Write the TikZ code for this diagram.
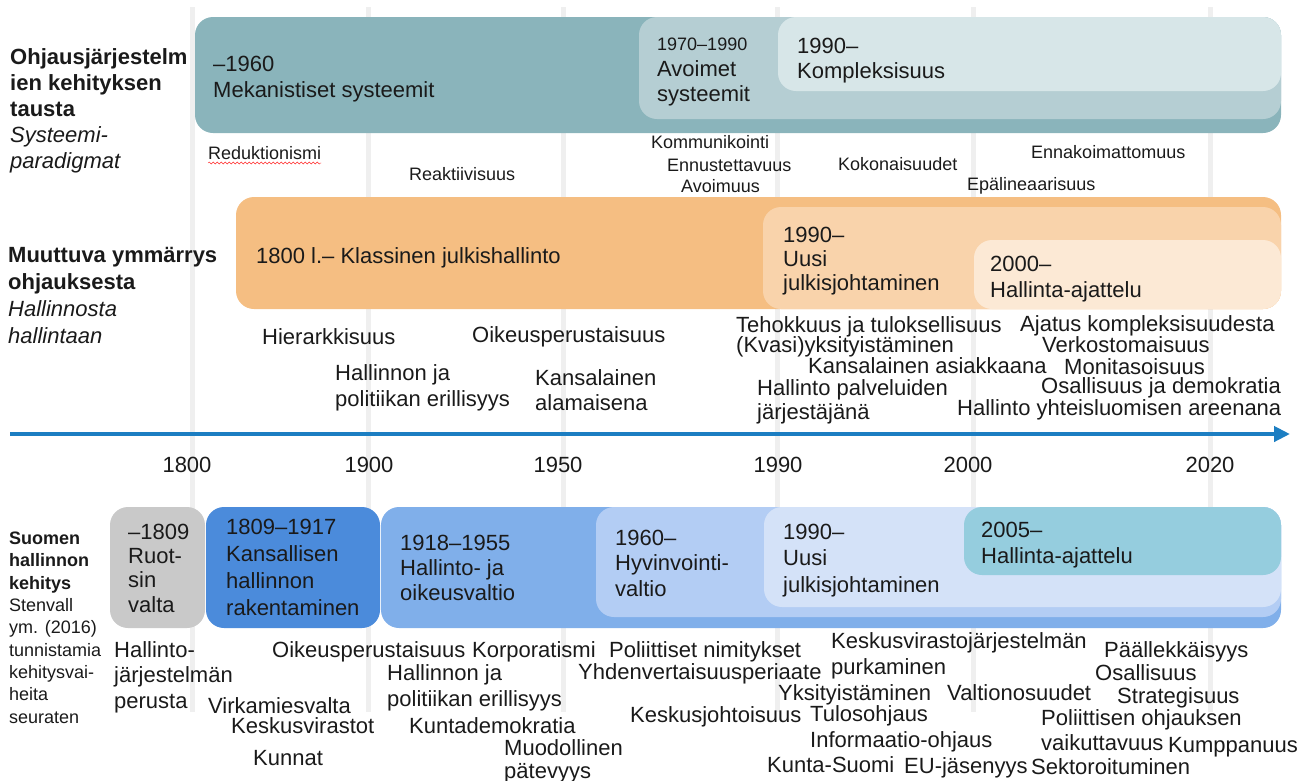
\documentclass[tikz,border=0pt]{standalone}
\usepackage{fontspec}
\setmainfont{Liberation Sans}
\usetikzlibrary{arrows.meta,decorations.pathmorphing}
\definecolor{gridc}{HTML}{EFEFEF}
\definecolor{axisc}{HTML}{1C7EC2}
\definecolor{tealA}{HTML}{8AB4BB}
\definecolor{tealB}{HTML}{B5CED3}
\definecolor{tealC}{HTML}{D7E6E8}
\definecolor{orgA}{HTML}{F5BE82}
\definecolor{orgB}{HTML}{F9D3AB}
\definecolor{orgC}{HTML}{FCE9D5}
\definecolor{gryA}{HTML}{C9C9C9}
\definecolor{bluA}{HTML}{4B8BDB}
\definecolor{bluB}{HTML}{80AFEA}
\definecolor{bluC}{HTML}{B3CDF4}
\definecolor{bluD}{HTML}{D4E2F8}
\definecolor{cynA}{HTML}{95CDDE}
\definecolor{ink}{HTML}{1A1A1A}
\begin{document}
\begin{tikzpicture}[x=1pt,y=-1pt,font=\fontsize{22}{26}\selectfont,text=ink,
 txt/.style={anchor=base west,inner sep=0pt,align=left},
 sm/.style={txt,font=\fontsize{18}{22}\selectfont},
 yr/.style={anchor=base,inner sep=0pt},
 band/.style={rounded corners=18pt}]
\useasboundingbox (0,0) rectangle (1311,780);
\foreach \x in {192,368,563,777,973,1210} \draw[gridc,line width=5pt] (\x,7)--(\x,712);
\fill[tealA,band] (195,17) rectangle (1281,133);\fill[tealB,band] (639,17) rectangle (1281,119);\fill[tealC,band] (778,17) rectangle (1281,91);
\node[txt] (mek) at (213,97) {–1960\\Mekanistiset systeemit};
\node[sm] (avo0) at (657,50) {1970–1990};\node[txt,font=\fontsize{22}{25}\selectfont] (avo) at (657,101) {Avoimet\\systeemit};
\node[txt,font=\fontsize{22}{25}\selectfont] (kom) at (797,78) {1990–\\Kompleksisuus};
\node[txt] (ohj) at (10,168) {\textbf{Ohjausjärjestelm}\\\textbf{ien kehityksen}\\\textbf{tausta}\\\textit{Systeemi-}\\\textit{paradigmat}};
\node[sm] (redu) at (208,159) {Reduktionismi};\draw[red!85!white,decorate,decoration={snake,amplitude=1pt,segment length=4pt}] ([yshift=-4pt]redu.base west)--([yshift=-4pt]redu.base east);
\node[sm] (reak) at (409,180) {Reaktiivisuus};
\node[sm] (komm) at (651,148) {Kommunikointi};\node[sm] (ennu) at (667,171) {Ennustettavuus};\node[sm] (avoi) at (681,192) {Avoimuus};
\node[sm] (koko) at (838,170) {Kokonaisuudet};\node[sm] (enna) at (1031,158) {Ennakoimattomuus};\node[sm] (epal) at (967,190) {Epälineaarisuus};
\fill[orgA,band] (236,197) rectangle (1281,309);\fill[orgB,band] (763,207) rectangle (1281,309);\fill[orgC,band] (974,240) rectangle (1281,309);
\node[txt] (klas) at (256,263) {1800 l.– Klassinen julkishallinto};
\node[txt,font=\fontsize{22}{24}\selectfont] (ujoA) at (783,290) {1990–\\Uusi\\julkisjohtaminen};
\node[txt] (halA) at (990,297) {2000–\\Hallinta-ajattelu};
\node[txt,font=\fontsize{22}{26.7}\selectfont] (muu) at (8,343) {\textbf{Muuttuva ymmärrys}\\\textbf{ohjauksesta}\\\textit{Hallinnosta}\\\textit{hallintaan}};
\node[txt] (hier) at (262,344) {Hierarkkisuus};
\node[txt] (erA) at (335,406) {Hallinnon ja\\politiikan erillisyys};
\node[txt] (oikA) at (472,342) {Oikeusperustaisuus};
\node[txt,font=\fontsize{22}{25}\selectfont] (alam) at (535,410) {Kansalainen\\alamaisena};
\node[txt] (teho) at (736,332) {Tehokkuus ja tuloksellisuus};\node[txt] (kvas) at (736,352) {(Kvasi)yksityistäminen};
\node[txt] (asia) at (808,373) {Kansalainen asiakkaana};
\node[txt,font=\fontsize{22}{24}\selectfont] (palv) at (757,419) {Hallinto palveluiden\\järjestäjänä};
\node[txt] (ajat) at (1020,331) {Ajatus kompleksisuudesta};\node[txt] (verk) at (1042,352) {Verkostomaisuus};
\node[txt] (moni) at (1064,374) {Monitasoisuus};\node[txt] (osaA) at (1041,393) {Osallisuus ja demokratia};
\node[txt] (yhte) at (957,415) {Hallinto yhteisluomisen areenana};
\coordinate (ax0) at (10,434);\coordinate (ax1) at (1290,434);
\draw[axisc,line width=4.5pt,-{Triangle[length=16pt,width=15pt]}] (ax0)--(ax1);
\foreach \x/\t in {187/1800,369/1900,558/1950,778/1990,968/2000,1210/2020} \node[yr] (y\t) at (\x,472) {\t};
\fill[gryA,band] (110,507) rectangle (205,628);\fill[bluA,band] (206,507) rectangle (380,628);\fill[bluB,band] (381,507) rectangle (1281,628);
\fill[bluC,band] (596,507) rectangle (1281,617);\fill[bluD,band] (764,507) rectangle (1281,607);\fill[cynA,band] (964,507) rectangle (1281,575);
\node[txt,font=\fontsize{22}{24.3}\selectfont] (ruo) at (128,612) {–1809\\Ruot-\\sin\\valta};
\node[txt,font=\fontsize{22}{26.7}\selectfont] (kans) at (226,615) {1809–1917\\Kansallisen\\hallinnon\\rakentaminen};
\node[txt,font=\fontsize{22}{25}\selectfont] (oikv) at (400,600) {1918–1955\\Hallinto- ja\\oikeusvaltio};
\node[txt,font=\fontsize{22}{25.5}\selectfont] (hyv) at (615,596) {1960–\\Hyvinvointi-\\valtio};
\node[txt,font=\fontsize{22}{26.5}\selectfont] (ujoB) at (783,592) {1990–\\Uusi\\julkisjohtaminen};
\node[txt] (halB) at (981,563) {2005–\\Hallinta-ajattelu};
\node[txt,font=\fontsize{18}{22.3}\selectfont] (suo) at (9,723) {\textbf{Suomen}\\\textbf{hallinnon}\\\textbf{kehitys}\\Stenvall\\ym. (2016)\\tunnistamia\\kehitysvai-\\heita\\seuraten};
\node[txt,font=\fontsize{22}{25.5}\selectfont] (perus) at (114,708) {Hallinto-\\järjestelmän\\perusta};
\node[txt] (oikB) at (272,657) {Oikeusperustaisuus};\node[txt] (virk) at (208,713) {Virkamiesvalta};
\node[txt] (kesk) at (231,733) {Keskusvirastot};\node[txt] (kunn) at (253,765) {Kunnat};
\node[txt] (erB) at (387,706) {Hallinnon ja\\politiikan erillisyys};\node[txt] (korp) at (472,657) {Korporatismi};
\node[txt] (kdem) at (409,733) {Kuntademokratia};\node[txt,font=\fontsize{22}{23}\selectfont] (muod) at (504,778) {Muodollinen\\pätevyys};
\node[txt] (poli) at (609,657) {Poliittiset nimitykset};\node[txt] (yhde) at (578,679) {Yhdenvertaisuusperiaate};
\node[txt] (kejo) at (630,722) {Keskusjohtoisuus};
\node[txt] (kvj) at (831,674) {Keskusvirastojärjestelmän\\purkaminen};
\node[txt] (yksi) at (778,700) {Yksityistäminen};\node[txt] (tulo) at (810,721) {Tulosohjaus};
\node[txt] (info) at (810,747) {Informaatio-ohjaus};\node[txt] (kusu) at (767,772) {Kunta-Suomi};
\node[txt] (euj) at (904,773) {EU-jäsenyys};\node[txt] (valt) at (947,700) {Valtionosuudet};
\node[txt] (sekt) at (1031,774) {Sektoroituminen};\node[txt] (paal) at (1104,657) {Päällekkäisyys};
\node[txt] (osaB) at (1095,680) {Osallisuus};\node[txt] (stra) at (1117,703) {Strategisuus};
\node[txt,font=\fontsize{22}{25}\selectfont] (pola) at (1041,750) {Poliittisen ohjauksen\\vaikuttavuus};
\node[txt] (kump) at (1168,752) {Kumppanuus};
\end{tikzpicture}
\end{document}
